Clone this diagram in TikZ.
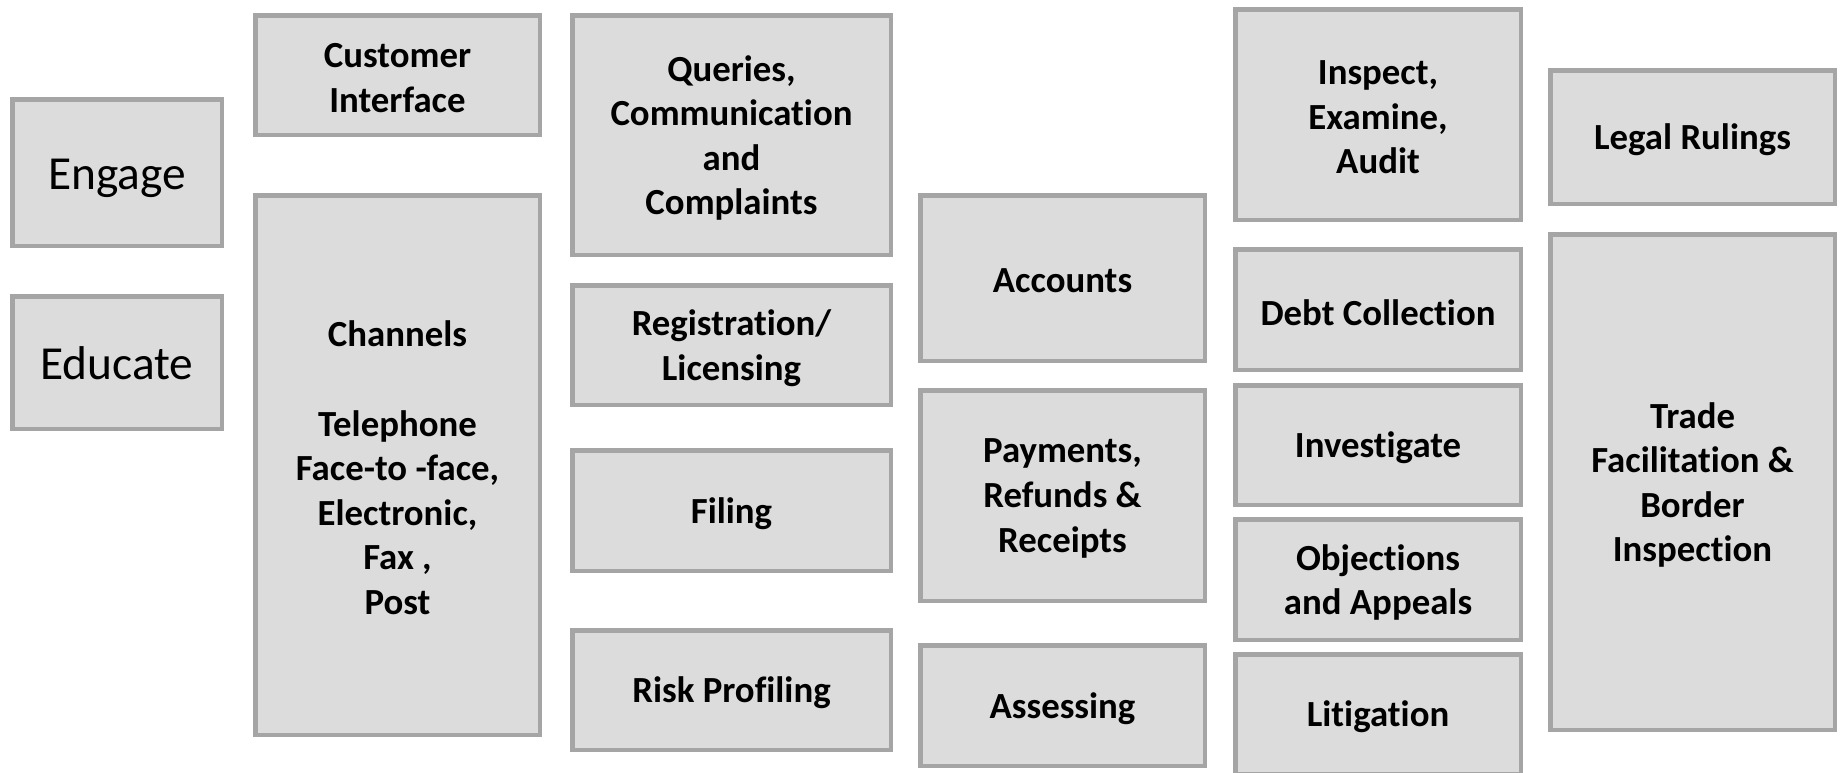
\documentclass[tikz,border=0pt]{standalone}
\usepackage{fontspec}
\setmainfont{Carlito}[Ligatures={TeX,NoCommon}]
\definecolor{boxfill}{HTML}{DCDCDC}
\definecolor{boxline}{HTML}{A5A5A5}
\tikzset{
  box/.style={draw=boxline, fill=boxfill, line width=2.25pt, inner sep=0pt},
  boldtext/.style={inner sep=0pt, align=center, text=black, yshift=-1.5pt,
    font=\bfseries\fontsize{18.4}{22.3}\selectfont},
  bigtext/.style={inner sep=0pt, align=center, text=black,
    font=\fontsize{23.7}{28}\selectfont}
}
% #1 text style, #2 name, #3-#6 outer px box (x0,y0,x1,y1), #7 text
\newcommand\pxbox[7]{%
  \node[box, minimum width={(#5-#3-4.5)*0.5pt}, minimum height={(#6-#4-4.5)*0.5pt}]
    (#2) at ({(#3+#5)/2},{(#4+#6)/2}) {};
  \node[#1] (#2-t) at (#2.center) {#7};}
\begin{document}
\begin{tikzpicture}[x=0.5pt,y=-0.5pt]
\useasboundingbox (0,0) rectangle (1841,772);
\pxbox{bigtext,yshift=-3pt}{engage}{10}{97}{224}{248}{Engage}
\pxbox{bigtext,yshift=-0.3pt}{educate}{10}{294}{224}{431}{Educate}
\pxbox{boldtext}{custint}{253}{13}{542}{137}{Customer\\Interface}
\pxbox{boldtext}{channels}{253}{193}{542}{737}{Channels\\[22.3pt]Telephone\\Face-to -face,\\Electronic,\\Fax ,\\Post}
\pxbox{boldtext}{queries}{570}{13}{893}{257}{Queries,\\Communication\\and\\Complaints}
\pxbox{boldtext}{registration}{570}{283}{893}{407}{Registration/\\Licensing}
\pxbox{boldtext}{filing}{570}{448}{893}{573}{Filing}
\pxbox{boldtext}{risk}{570}{628}{893}{752}{Risk Profiling}
\pxbox{boldtext}{accounts}{918}{193}{1207}{363}{Accounts}
\pxbox{boldtext}{payments}{918}{388}{1207}{603}{Payments,\\Refunds \&\\Receipts}
\pxbox{boldtext}{assessing}{918}{643}{1207}{768}{Assessing}
\pxbox{boldtext}{inspect}{1233}{7}{1523}{222}{Inspect,\\Examine,\\Audit}
\pxbox{boldtext}{debt}{1233}{247}{1523}{372}{Debt Collection}
\pxbox{boldtext}{investigate}{1233}{383}{1523}{507}{Investigate}
\pxbox{boldtext}{objections}{1233}{517}{1523}{642}{Objections\\and Appeals}
\pxbox{boldtext}{litigation}{1233}{652}{1523}{776}{Litigation}
\pxbox{boldtext}{legal}{1548}{68}{1837}{206}{Legal Rulings}
\pxbox{boldtext}{trade}{1548}{232}{1837}{732}{Trade\\Facilitation \&\\Border\\Inspection}
\end{tikzpicture}
\end{document}
